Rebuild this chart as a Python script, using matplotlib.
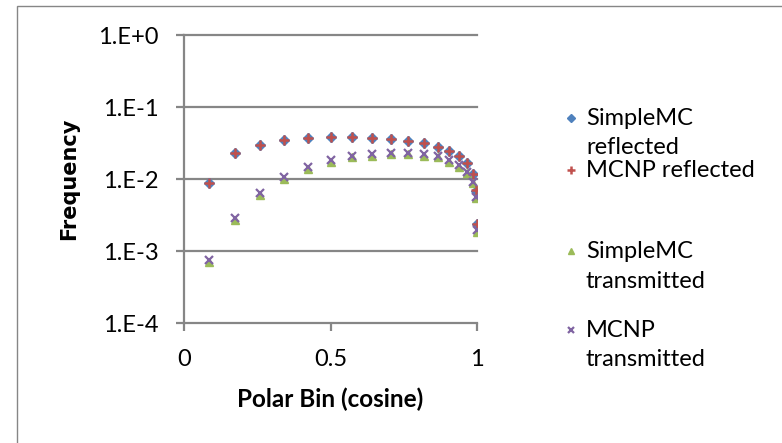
import matplotlib.pyplot as plt
from matplotlib.patches import Rectangle
from matplotlib.lines import Line2D

# polar bin centres (cosine)
cosine = [0.087, 0.174, 0.259, 0.342, 0.423, 0.500, 0.574, 0.643, 0.707,
          0.766, 0.819, 0.866, 0.906, 0.940, 0.966, 0.985, 0.996, 1.000]

simplemc_refl = [0.0087, 0.0228, 0.0297, 0.0348, 0.0375, 0.0387, 0.0387, 0.0375, 0.0362,
                 0.0337, 0.0313, 0.0281, 0.0247, 0.0209, 0.0165, 0.0117, 0.0068, 0.0024]
mcnp_refl = [0.0087, 0.0227, 0.0298, 0.0347, 0.0376, 0.0388, 0.0386, 0.0376, 0.0363,
             0.0338, 0.0312, 0.0282, 0.0248, 0.0210, 0.0166, 0.0118, 0.0070, 0.0024]
simplemc_trans = [0.00071, 0.00270, 0.00600, 0.0101, 0.0138, 0.0175, 0.0199, 0.0212, 0.0221,
                  0.0221, 0.0212, 0.0199, 0.0175, 0.0148, 0.0120, 0.0087, 0.0054, 0.00185]
mcnp_trans = [0.00075, 0.00285, 0.00633, 0.0106, 0.0145, 0.0184, 0.0209, 0.0222, 0.0232,
              0.0232, 0.0222, 0.0209, 0.0184, 0.0156, 0.0126, 0.0092, 0.0057, 0.00196]

labels = ["SimpleMC\nreflected", "MCNP reflected", "SimpleMC\ntransmitted", "MCNP\ntransmitted"]
yticks = [1e-4, 1e-3, 1e-2, 1e-1, 1e0]
yticklabels = ["1.E-4", "1.E-3", "1.E-2", "1.E-1", "1.E+0"]

grey = '#868686'
W, H = 782, 443

fig = plt.figure(figsize=(W / 100, H / 100), dpi=100)
fig.patches.append(Rectangle((17 / W, -0.05), 1.1, 1.05 - 6 / H, transform=fig.transFigure,
                             fill=False, edgecolor=grey, linewidth=1.0))

ax = fig.add_axes([184 / W, 1 - 323 / H, (477 - 184) / W, (323 - 35) / H])
ax.set_yscale('log')
ax.set_xlim(0, 1)
ax.set_ylim(1e-4, 1e0)

for y in yticks:
    ax.axhline(y, color=grey, linewidth=1.6, zorder=1, clip_on=False)

styles = [
    dict(marker='D', markersize=5, color='#4F81BD', zorder=3),
    dict(marker='+', markersize=7, markeredgewidth=1.8, color='#C0504D', zorder=4),
    dict(marker='^', markersize=6, color='#9BBB59', zorder=3),
    dict(marker='x', markersize=6, markeredgewidth=1.6, color='#8064A2', zorder=4),
]
series = [simplemc_refl, mcnp_refl, simplemc_trans, mcnp_trans]
for vals, st, lab in zip(series, styles, labels):
    ax.plot(cosine, vals, linestyle='none', label=lab, **st)

for s in ['top', 'right', 'bottom']:
    ax.spines[s].set_visible(False)
ax.spines['left'].set_color(grey)
ax.spines['left'].set_linewidth(1.6)

ax.set_xticks([0, 0.5, 1])
ax.set_xticklabels(['0', '0.5', '1'])
ax.set_yticks(yticks)
ax.set_yticklabels(yticklabels)
ax.minorticks_off()
ax.tick_params(axis='both', colors=grey, labelcolor='black', labelsize=17,
               length=6, width=1.6, direction='out')
ax.tick_params(axis='y', pad=12)
ax.tick_params(axis='x', pad=13)
for t in ax.get_xticklabels() + ax.get_yticklabels():
    t.set_family('Lato')

ax.set_xlabel('Polar Bin (cosine)', fontsize=17.5, fontweight='bold', family='Lato', labelpad=12)
ax.set_ylabel('Frequency', fontsize=15, fontweight='bold', family='DejaVu Sans', labelpad=14)

# legend, Excel style: marker next to the first line of each entry
leg_y = [118, 170, 251, 330]
for st, lab, yy in zip(styles, labels, leg_y):
    ms = dict(st)
    ms['markersize'] = ms['markersize'] * 0.8
    ms.pop('zorder')
    fig.add_artist(Line2D([571 / W], [1 - yy / H], transform=fig.transFigure,
                          linestyle='none', **ms))
    fig.text(586 / W, 1 - (yy - 10) / H, lab, family='Lato', fontsize=17,
             va='top', ha='left', linespacing=1.5)

fig.savefig('out.png', dpi=100)
